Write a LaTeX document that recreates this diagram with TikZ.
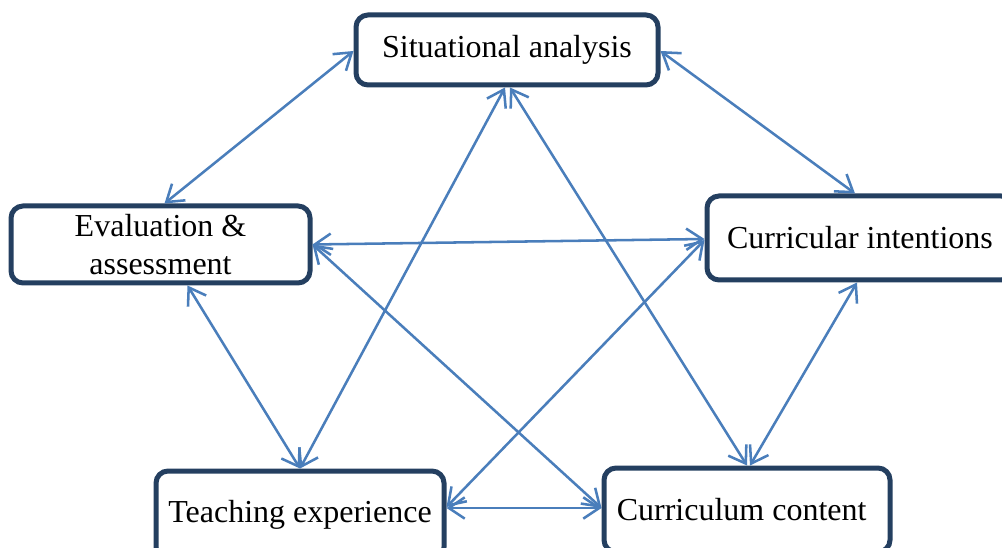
\documentclass[tikz,border=0pt]{standalone}
\usepackage{fontspec}
\setmainfont{Liberation Serif}
\usetikzlibrary{arrows.meta,calc}
\definecolor{boxnavy}{RGB}{36,63,96}
\definecolor{arrowblue}{RGB}{74,126,187}
\tikzset{
  box/.style={draw=boxnavy, line width=3.75pt, rounded corners=9pt, fill=white,
    align=center, inner sep=0pt, font=\fontsize{24}{28}\selectfont},
  arr/.style={draw=arrowblue, line width=1.9pt,
    {Straight Barb[length=12pt,width=16pt]}-{Straight Barb[length=12pt,width=16pt]}}
}
\begin{document}
\begin{tikzpicture}[x=0.75pt,y=-0.75pt]
\useasboundingbox (0,0) rectangle (1002,548);
\clip (0,0) rectangle (1002,548);
\node[box, minimum width=226.5pt, minimum height=52.5pt] (sa) at (507,50) {Situational analysis};
\node[box, minimum width=224.25pt, minimum height=57.75pt] (ea) at (160.5,244.5) {Evaluation \&\\assessment};
\node[box, minimum width=229.5pt, minimum height=63pt] (ci) at (860,238) {Curricular intentions};
\node[box, minimum width=216pt, minimum height=66pt] (te) at (300,515) {Teaching experience};
\node[box, minimum width=214.5pt, minimum height=63pt] (cc) at (747,510) {Curriculum content\hspace{8pt}};
\draw[arr] ($(sa.west)+(0,1)$) -- ($(ea.north)+(4,0)$);
\draw[arr] ($(sa.east)+(0,1)$) -- ($(ci.north)+(-5,0)$);
\draw[arr] ($(sa.south)+(-2,0)$) -- (te.north);
\draw[arr] ($(sa.south)+(3,0)$) -- (cc.north);
\draw[arr] (ea.east) -- ($(ci.west)+(0,1)$);
\draw[arr] (ea.east) -- ($(cc.west)+(0,-2)$);
\draw[arr] ($(ci.west)+(0,2)$) -- ($(te.east)+(0,-8)$);
\draw[arr] ($(te.east)+(0,-7)$) -- ($(cc.west)+(0,-2)$);
\draw[arr] ($(ea.south)+(27,0)$) -- (te.north);
\draw[arr] ($(ci.south)+(-3,0)$) -- ($(cc.north)+(3,0)$);
\end{tikzpicture}
\end{document}
